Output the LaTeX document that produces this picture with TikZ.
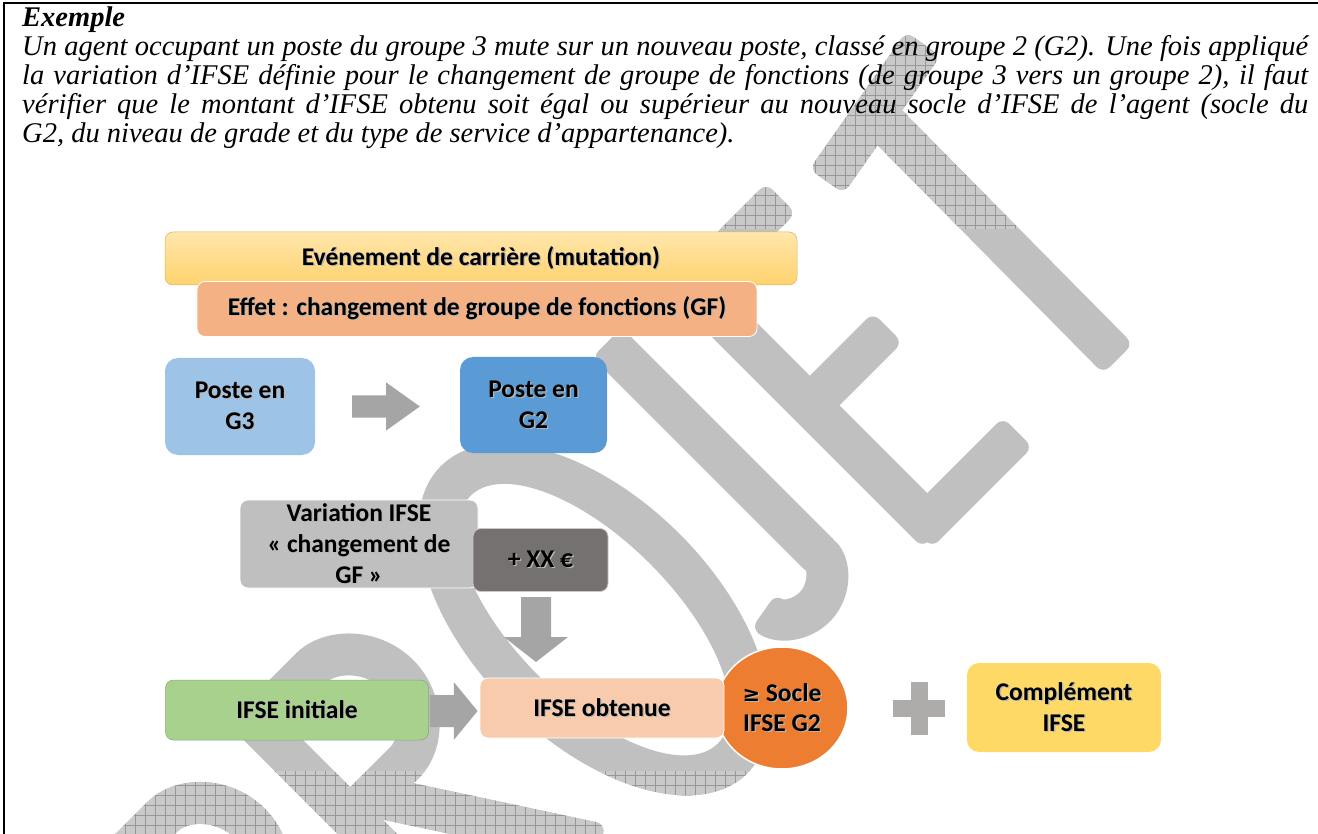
\documentclass[tikz,border=0pt]{standalone}
\usepackage{fontspec}
\setmainfont{Liberation Serif}
\newfontfamily\calibri{Carlito}
\newfontfamily\symb{DejaVu Sans}
\usetikzlibrary{shapes.geometric,calc}

\definecolor{filigrane}{HTML}{C0C0C0}
\definecolor{filigraneclair}{HTML}{C9C9C9}
\definecolor{trame}{HTML}{979797}
\definecolor{jauneA}{HTML}{FFE6AC}
\definecolor{jauneB}{HTML}{FFD36E}
\definecolor{saumon}{HTML}{F4B183}
\definecolor{bleuclair}{HTML}{9DC3E6}
\definecolor{bleu}{HTML}{5B9BD5}
\definecolor{grisclair}{HTML}{BFBFBF}
\definecolor{grisfonce}{HTML}{767171}
\definecolor{vert}{HTML}{A9D18E}
\definecolor{peche}{HTML}{F8CBAD}
\definecolor{orangeF}{HTML}{ED7D31}
\definecolor{jaune}{HTML}{FFD966}
\definecolor{flechegris}{HTML}{A5A5A5}
\definecolor{plusgris}{HTML}{AEABAB}

% soft shadow under the bold labels
\newcommand\ombre[1]{\leavevmode\rlap{\kern1.3pt\raisebox{-1.3pt}{\textcolor{black!28}{#1}}}#1}

% straight stroke of the watermark, prepared as a closed outline
\newcommand\preptrait[3]{%
  \path ($(#2)!-14pt!(#3)$) coordinate (#1a) ($(#3)!-14pt!(#2)$) coordinate (#1b);
  \path ($(#1a)!21pt!90:(#1b)$) coordinate (#1a1) ($(#1a)!21pt!-90:(#1b)$) coordinate (#1a2)
        ($(#1b)!21pt!-90:(#1a)$) coordinate (#1b1) ($(#1b)!21pt!90:(#1a)$) coordinate (#1b2);}
\newcommand\trait[1]{(#1a1) -- (#1b1) -- (#1b2) -- (#1a2) -- cycle}

% outline of the letters P R O J E T (letter frame: u along the baseline, v upwards)
\newcommand\piecesprojet{%
  \trait{pS}
  (-540,354) -- (-472,354) arc[start angle=90, end angle=-90, radius=87.5] -- (-540,179)
    -- (-540,221) -- (-472,221) arc[start angle=-90, end angle=90, radius=45.5] -- (-540,312) -- cycle
  \trait{rS} \trait{rL}
  (-330,354) -- (-262,354) arc[start angle=90, end angle=-90, radius=87.5] -- (-330,179)
    -- (-330,221) -- (-262,221) arc[start angle=-90, end angle=90, radius=45.5] -- (-330,312) -- cycle
  (103,167) arc[start angle=0, end angle=-360, x radius=121, y radius=217]
  (61,167) arc[start angle=0, end angle=360, x radius=79, y radius=175]
  \trait{jS}
  (208,60) arc[start angle=0, end angle=-170, radius=61] -- ($(147,60)+(-170:19)$)
    arc[start angle=-170, end angle=0, radius=19] -- cycle
  \trait{eS} \trait{eA} \trait{eB} \trait{eC}
  \trait{tB} \trait{tS}}

\begin{document}
\begin{tikzpicture}[x=1pt, y=-1pt,
  lettres/.style={shift={(725,725)}, x={(0.7071pt,0.7071pt)}, y={(-0.7071pt,0.7071pt)}},
  boite/.style={rounded corners=8pt, inner sep=0pt, align=center,
    font=\calibri\bfseries\fontsize{25.5}{31}\selectfont, text=black},
  texte/.style={inner sep=0pt, anchor=base west,
    font=\fontsize{28.5}{29}\selectfont\itshape},
  flechebloc/.style={fill=flechegris},
]
\useasboundingbox (0,0) rectangle (1318,834);
\clip (0,0) rectangle (1318,834);

% ---- watermark ----
\begin{scope}[lettres]
  \preptrait{pS}{-540,15}{-540,333}
  \preptrait{rS}{-330,15}{-330,333}
  \preptrait{rL}{-300,200}{-180,15}
  \preptrait{jS}{187,340}{187,60}
  \preptrait{eS}{286,333}{286,0}
  \preptrait{eA}{286,333}{398,333}
  \preptrait{eB}{286,166}{382,166}
  \preptrait{eC}{286,0}{400,0}
  \preptrait{tB}{470,315}{608,339}
  \preptrait{tS}{539,327}{537,-5}
  \fill[filigrane, rounded corners=9pt] \piecesprojet;
\end{scope}
% grid texture of the watermark outside the diagram area
\begin{scope}
  \clip (0,0) rectangle (1318,229) (0,771) rectangle (1318,834);
  \begin{scope}[lettres]
    \clip[rounded corners=9pt] \piecesprojet;
    \begin{scope}[x=1pt, y=-1pt, shift={(-725,-725)}]
      \fill[filigraneclair] (0,0) rectangle (1318,834);
      \draw[trame, line width=0.9pt]
        \foreach \gx in {5,15,...,1315} {(\gx,0) -- (\gx,834)}
        \foreach \gy in {5,15,...,835} {(0,\gy) -- (1318,\gy)};
    \end{scope}
  \end{scope}
\end{scope}

% ---- text of the example ----
\node[texte, font=\fontsize{28.5}{29}\selectfont\bfseries\itshape] (titre) at (22,27) {Exemple};
\node[texte] (ligne1) at (22,55.5) {\makebox[1286pt][s]{Un agent occupant un poste du groupe 3 mute sur un nouveau poste, classé en groupe 2 (G2). Une fois appliqué}};
\node[texte] (ligne2) at (22,84.5) {\makebox[1286pt][s]{la variation d’IFSE définie pour le changement de groupe de fonctions (de groupe 3 vers un groupe 2), il faut}};
\node[texte] (ligne3) at (22,113.5) {\makebox[1286pt][s]{vérifier que le montant d’IFSE obtenu soit égal ou supérieur au nouveau socle d’IFSE de l’agent (socle du}};
\node[texte] (ligne4) at (22,142.5) {G2, du niveau de grade et du type de service d’appartenance).};

% ---- diagram ----
\node[boite, top color=jauneA, bottom color=jauneB, draw=jauneB!85!black, line width=0.5pt,
  minimum width=632pt, minimum height=53pt] (evt) at (481,258.5) {\ombre{Evénement de carrière (mutation)}};
\node[boite, fill=saumon, draw=white, line width=0.8pt,
  minimum width=560pt, minimum height=55pt] (effet) at (477,309) {\ombre{Effet : changement de groupe de fonctions (GF)}};

\node[boite, rounded corners=13pt, fill=bleuclair,
  minimum width=150pt, minimum height=97pt] (g3) at (240,406.5) {\ombre{Poste en}\\\ombre{G3}};
\node[boite, rounded corners=13pt, fill=bleu,
  minimum width=147pt, minimum height=96pt] (g2) at (533.5,405) {\ombre{Poste en}\\\ombre{G2}};

\coordinate (f1a) at ($(g3.east)+(37,0)$);
\coordinate (f1b) at ($(g3.east)+(71,0)$);
\coordinate (f1c) at ($(g2.west)+(-40,1.5)$);
\fill[flechebloc] ($(f1a)+(0,-11)$) -- ($(f1b)+(0,-11)$) -- ($(f1b)+(0,-24)$) -- (f1c)
  -- ($(f1b)+(0,24)$) -- ($(f1b)+(0,11)$) -- ($(f1a)+(0,11)$) -- cycle;

\node[boite, fill=grisclair, draw=white, line width=0.8pt,
  minimum width=238pt, minimum height=88pt] (varia) at (359,544) {\ombre{Variation IFSE}\\\ombre{« changement de}\\\ombre{GF »}};
\node[boite, fill=grisfonce, draw=white!60!grisfonce, line width=0.8pt,
  minimum width=135pt, minimum height=63pt] (xx) at (540.5,560) {\ombre{+ XX €}};

\coordinate (f2a) at (536,597);
\coordinate (f2b) at (536,637);
\coordinate (f2c) at (536,662);
\fill[flechebloc] ($(f2a)+(-15,0)$) -- ($(f2b)+(-15,0)$) -- ($(f2b)+(-32,0)$) -- (f2c)
  -- ($(f2b)+(32,0)$) -- ($(f2b)+(15,0)$) -- ($(f2a)+(15,0)$) -- cycle;

\node[boite, fill=vert, draw=vert!80!black, line width=0.5pt,
  minimum width=263pt, minimum height=60pt] (init) at (297,710) {\ombre{IFSE initiale}};

\node[ellipse, fill=orangeF, draw=white, line width=1.5pt, inner sep=0pt, align=center,
  font=\calibri\bfseries\fontsize{25.5}{30}\selectfont,
  minimum width=132pt, minimum height=122pt] (socle) at (782,708)
  {\ombre{{\symb\fontsize{21}{30}\selectfont ≥} Socle}\\\ombre{IFSE G2}};
\node[boite, fill=peche, draw=white, line width=0.8pt,
  minimum width=244pt, minimum height=60pt] (obt) at (602,708) {\ombre{IFSE obtenue}};

\coordinate (f3a) at ($(init.east)+(1,1)$);
\coordinate (f3b) at ($(init.east)+(25,1)$);
\coordinate (f3c) at ($(obt.west)+(-2,3)$);
\fill[flechebloc] ($(f3a)+(0,-16)$) -- ($(f3b)+(0,-16)$) -- ($(f3b)+(0,-29)$) -- (f3c)
  -- ($(f3b)+(0,29)$) -- ($(f3b)+(0,16)$) -- ($(f3a)+(0,16)$) -- cycle;

\coordinate (plus) at (919,708);
\fill[plusgris] ($(plus)+(-26,-8.5)$) rectangle ($(plus)+(26,8.5)$);
\fill[plusgris] ($(plus)+(-8.5,-26.5)$) rectangle ($(plus)+(8.5,26.5)$);

\node[boite, rounded corners=12pt, fill=jaune,
  minimum width=194pt, minimum height=89pt] (compl) at (1064,707.5) {\ombre{Complément}\\\ombre{IFSE}};

% frame of the example
\draw[line width=2.5pt] (4,834) -- (4,3) -- (1318,3);
\end{tikzpicture}
\end{document}
